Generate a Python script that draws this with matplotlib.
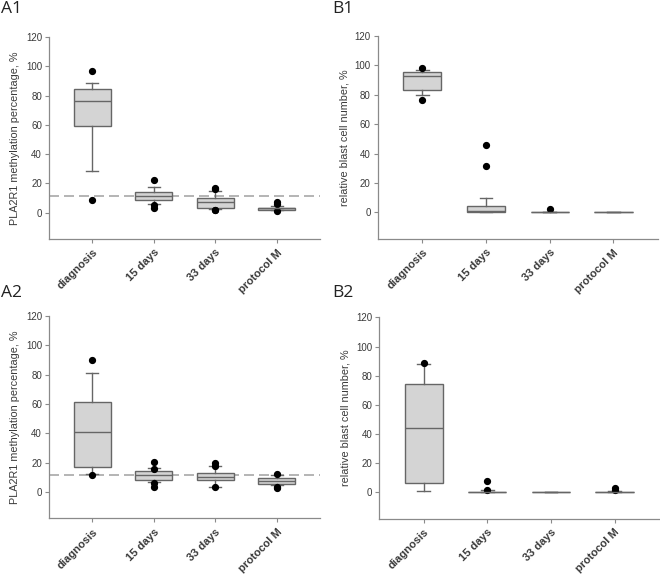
import matplotlib
matplotlib.use("Agg")
import matplotlib.pyplot as plt
from matplotlib.transforms import ScaledTranslation

categories = ["diagnosis", "15 days", "33 days", "protocol M"]
yticks = [0, 20, 40, 60, 80, 100, 120]

# Each group: [whisker low, Q1, median, Q3, whisker high]
A1_stats = [[28.6, 59.3, 76.1, 84.3, 88.8],
            [6.0, 8.5, 11.5, 14.0, 17.5],
            [2.5, 3.5, 7.0, 10.0, 14.5],
            [1.5, 2.0, 3.0, 3.5, 4.5]]
A1_fliers = [[96.8, 8.9], [22.5, 5.0, 3.0], [17.0, 16.0, 2.0, 2.0], [7.0, 6.0, 1.0]]

B1_stats = [[79.7, 82.9, 92.8, 95.5, 96.4],
            [0.0, 0.5, 1.0, 4.5, 10.0],
            [0.0, 0.0, 0.0, 0.0, 0.0],
            [0.0, 0.0, 0.0, 0.0, 0.0]]
B1_fliers = [[98.0, 76.5], [46.0, 31.5], [2.5], []]

A2_stats = [[12.0, 17.3, 41.1, 61.6, 81.0],
            [6.5, 8.2, 11.5, 14.4, 16.0],
            [3.5, 8.4, 10.0, 13.0, 17.5],
            [4.5, 5.5, 7.5, 9.4, 11.5]]
A2_fliers = [[90.1, 11.6], [20.5, 15.7, 6.2, 3.4], [19.4, 17.6, 3.4], [12.1, 3.4, 3.0]]

B2_stats = [[1.1, 6.2, 44.0, 74.4, 88.0],
            [0.0, 0.0, 0.0, 0.0, 2.0],
            [0.0, 0.0, 0.0, 0.0, 0.0],
            [0.0, 0.0, 0.0, 0.0, 1.0]]
B2_fliers = [[88.7], [8.0, 2.0], [], [3.2, 2.0]]

threshold = 11.5

ylab_A = "PLA2R1 methylation percentage, %"
ylab_B = "relative blast cell number, %"

AX_COL = "#8a8a8a"
TXT_COL = "#3a3a3a"
BOX_FILL = "#d4d4d4"
BOX_EDGE = "#666666"

plt.rcParams["font.family"] = ["Liberation Sans", "DejaVu Sans"]

fig = plt.figure(figsize=(6.6, 5.78), dpi=100)


def make_stats(stats, fliers):
    out = []
    for s, f in zip(stats, fliers):
        out.append(dict(whislo=s[0], q1=s[1], med=s[2], q3=s[3], whishi=s[4],
                        fliers=f, mean=s[2]))
    return out


def panel(rect, stats, fliers, ylabel, label, label_pos, dashed):
    ax = fig.add_axes(rect)
    pos = list(range(1, len(categories) + 1))
    ax.bxp(make_stats(stats, fliers), positions=pos, widths=0.6, capwidths=0.2,
           patch_artist=True, showfliers=True,
           boxprops=dict(facecolor=BOX_FILL, edgecolor=BOX_EDGE, linewidth=1.0),
           medianprops=dict(color=BOX_EDGE, linewidth=1.0),
           whiskerprops=dict(color=BOX_EDGE, linewidth=1.0),
           capprops=dict(color=BOX_EDGE, linewidth=1.0),
           flierprops=dict(marker="o", markerfacecolor="black", markeredgecolor="black",
                           markersize=4.2, linestyle="none"))
    if dashed is not None:
        ax.axhline(dashed, color="#a8a8a8", linestyle=(0, (6, 3)), linewidth=1.2, zorder=0.5)
    ax.set_xlim(0.3, 4.7)
    ax.set_ylim(-18, 120)
    ax.set_yticks(yticks)
    ax.set_xticks(pos)
    ax.set_xticklabels(categories, rotation=45, ha="right", rotation_mode="anchor",
                       fontsize=8, fontweight="bold", color=TXT_COL)
    offset = ScaledTranslation(9 / 100, -3 / 100, fig.dpi_scale_trans)
    for t in ax.get_xticklabels():
        t.set_transform(t.get_transform() + offset)
    ax.tick_params(axis="y", labelsize=7, labelcolor=TXT_COL, color=AX_COL,
                   length=3, width=0.8, direction="out", pad=2)
    ax.tick_params(axis="x", color=AX_COL, length=3, width=0.8, direction="out", pad=3)
    for sp in ("top", "right"):
        ax.spines[sp].set_visible(False)
    for sp in ("left", "bottom"):
        ax.spines[sp].set_color(AX_COL)
        ax.spines[sp].set_linewidth(0.9)
    ax.set_ylabel(ylabel, fontsize=7.8, color=TXT_COL, labelpad=4)
    fig.text(label_pos[0], label_pos[1], label, fontsize=12.5,
             family=["Open Sans", "DejaVu Sans"], color="#222222", va="top", ha="left")
    return ax


panel([0.0742, 0.5865, 0.4106, 0.3495], A1_stats, A1_fliers, ylab_A, "A1", (0.002, 0.998), threshold)
panel([0.5723, 0.5865, 0.4247, 0.3517], B1_stats, B1_fliers, ylab_B, "B1", (0.504, 0.998), None)
panel([0.0742, 0.1033, 0.4106, 0.3500], A2_stats, A2_fliers, ylab_A, "A2", (0.002, 0.507), threshold)
panel([0.5747, 0.1026, 0.4238, 0.3484], B2_stats, B2_fliers, ylab_B, "B2", (0.504, 0.507), None)

fig.savefig("out.png", dpi=100)
